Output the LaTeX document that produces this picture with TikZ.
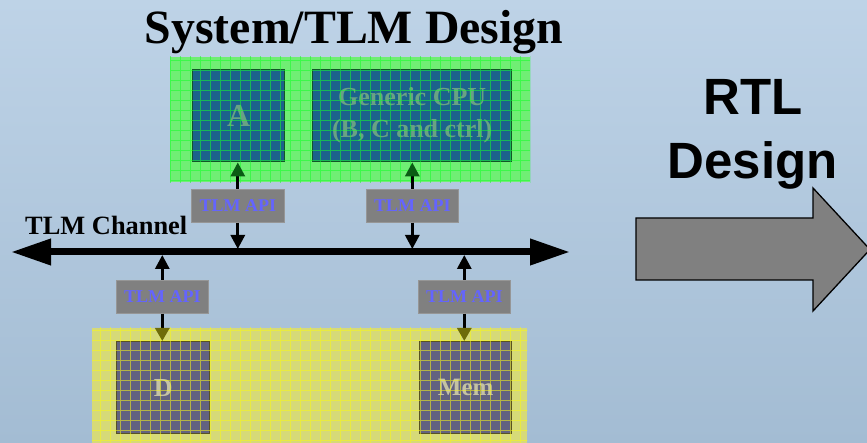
\documentclass[tikz,border=0pt]{standalone}
\usepackage{fontspec}
\setmainfont{Liberation Serif}
\newfontfamily\arialfont{Liberation Sans}
\usetikzlibrary{arrows.meta}

\definecolor{bgtop}{RGB}{190,211,231}
\definecolor{bgbot}{RGB}{163,188,211}
\definecolor{regiongreen}{RGB}{112,238,116}
\definecolor{gridgreen}{RGB}{20,255,40}
\definecolor{unitblue}{RGB}{28,98,140}
\definecolor{unitedge}{RGB}{18,86,40}
\definecolor{unittext}{RGB}{104,162,132}
\definecolor{regionyellow}{RGB}{214,218,120}
\definecolor{gridyellow}{RGB}{250,250,20}
\definecolor{memfill}{RGB}{98,98,128}
\definecolor{memedge}{RGB}{88,82,34}
\definecolor{memtext}{RGB}{196,194,164}
\definecolor{apigray}{RGB}{128,128,128}
\definecolor{apiedge}{RGB}{150,150,150}
\definecolor{apiblue}{RGB}{100,100,255}
\definecolor{tipgreen}{RGB}{10,92,20}
\definecolor{tipolive}{RGB}{110,108,10}

\begin{document}
\begin{tikzpicture}[x=1pt,y=-1pt,
  region/.style={draw=none,inner sep=0pt,anchor=north west},
  unitbox/.style={draw=unitedge,line width=1.4pt,fill=unitblue,anchor=north west,
    inner sep=0pt,text=unittext,font=\bfseries,align=center},
  membox/.style={draw=memedge,line width=1.4pt,fill=memfill,anchor=north west,
    inner sep=0pt,text=memtext,font=\bfseries,align=center},
  apibox/.style={draw=apiedge,line width=0.6pt,fill=apigray,anchor=north west,
    minimum height=33pt,inner sep=0pt,text=apiblue,
    font=\fontsize{18}{18}\selectfont\bfseries},
  link/.style={line width=3pt,-{Triangle[length=14pt,width=14pt]}},
  linkgreen/.style={line width=3pt,-{Triangle[length=14pt,width=14pt,color=tipgreen]}},
  linkolive/.style={line width=3pt,-{Triangle[length=13pt,width=14pt,color=tipolive]}},
  bus/.style={line width=7pt,{Triangle[length=40pt,width=25pt]}-{Triangle[length=40pt,width=25pt]}},
  bigarrow/.style={draw=black,line width=1.3pt,fill=apigray,line join=miter},
  label/.style={inner sep=0pt,anchor=base}]

\useasboundingbox (0,0) rectangle (867,443);
\clip (0,0) rectangle (867,443);

% background
\shade[top color=bgtop,bottom color=bgbot] (0,0) rectangle (867,443);

% titles
\node[label,font=\fontsize{47.8}{50}\selectfont\bfseries] (title) at (354,44) {System/TLM Design};
\node[label,font=\arialfont\fontsize{51}{52}\selectfont\bfseries] (rtl) at (753,115) {RTL};
\node[label,font=\arialfont\fontsize{51}{52}\selectfont\bfseries] (rtl2) at (752.5,179) {Design};
\node[inner sep=0pt,anchor=base west,font=\fontsize{26.4}{27}\selectfont\bfseries] (chan) at (25,235) {TLM Channel};

% upper (system) region
\node[region,fill=regiongreen,minimum width=360pt,minimum height=125pt] (sys) at (170,57) {};
\node[unitbox,minimum width=92pt,minimum height=92pt,font=\fontsize{32}{32}\selectfont\bfseries] (A) at (192,69) {A};
\node[unitbox,minimum width=199pt,minimum height=92pt,font=\fontsize{26}{32}\selectfont\bfseries] (cpu) at (312,69) {Generic CPU\\(B, C and ctrl)};
\begin{scope}
  \clip (sys.north west) rectangle (sys.south east);
  \draw[gridgreen,line width=0.6pt,opacity=0.55,step=10pt] (160,50) grid (540,190);
\end{scope}

% lower (memory) region
\node[region,fill=regionyellow,minimum width=435pt,minimum height=116pt] (mem) at (92,328) {};
\node[membox,minimum width=93pt,minimum height=92pt,font=\fontsize{26}{26}\selectfont\bfseries] (D) at (116,341) {D};
\node[membox,minimum width=92pt,minimum height=92pt,font=\fontsize{25}{25}\selectfont\bfseries] (M) at (419,341) {Mem};
\begin{scope}
  \clip (mem.north west) rectangle (mem.south east);
  \draw[gridyellow,line width=0.6pt,opacity=0.55,step=10pt] (80,320) grid (540,450);
\end{scope}

% API adapters
\node[apibox,minimum width=93pt] (api1) at (191,189) {TLM API};
\node[apibox,minimum width=92pt] (api2) at (366,189) {TLM API};
\node[apibox,minimum width=92pt] (api3) at (116,280) {TLM API};
\node[apibox,minimum width=92pt] (api4) at (418,280) {TLM API};

% channel bus
\coordinate (busL) at (11,252);
\coordinate (busR) at (570,252);
\draw[bus] (busL) -- (busR);

% connections
\draw[link,shorten >=3pt] (api1.south) -- (api1.south |- busL);
\draw[link,shorten >=3pt] (api2.south) -- (api2.south |- busL);
\draw[link,shorten >=3pt] (api3.north) -- (api3.north |- busL);
\draw[link,shorten >=3pt] (api4.north) -- (api4.north |- busL);
\draw[linkgreen] (api1.north) -- (api1.north |- A.south);
\draw[linkgreen] (api2.north) -- (api2.north |- cpu.south);
\draw[linkolive] (api3.south) -- (api3.south |- D.north);
\draw[linkolive] (api4.south) -- (api4.south |- M.north);

% refinement arrow towards RTL
\draw[bigarrow] (636,218) -- (813,218) -- (813,188) -- (870,249.5) -- (813,311)
  -- (813,280) -- (636,280) -- cycle;
\end{tikzpicture}
\end{document}
